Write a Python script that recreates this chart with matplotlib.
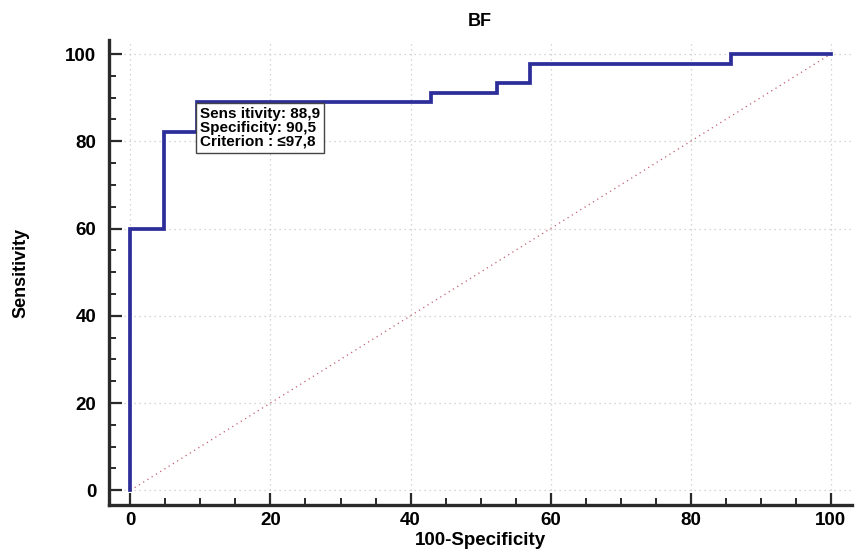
import matplotlib.pyplot as plt
from matplotlib.ticker import MultipleLocator

# ROC curve points (100-Specificity, Sensitivity)
fpr = [0, 0, 4.8, 4.8, 9.5, 9.5, 42.9, 42.9, 52.4, 52.4, 57.1, 57.1, 85.7, 85.7, 100]
tpr = [0, 60, 60, 82.2, 82.2, 88.9, 88.9, 91.1, 91.1, 93.3, 93.3, 97.8, 97.8, 100, 100]
diag = [0, 100]
box_lines = ["Sens itivity: 88,9", "Specificity: 90,5", "Criterion : \u226497,8"]
box_at = (9.5, 88.9)

plt.rcParams['font.family'] = ['Liberation Sans', 'DejaVu Sans']
plt.rcParams['font.weight'] = 'bold'

fig = plt.figure(figsize=(8.56, 5.49), dpi=100)
ax = fig.add_axes([0.127, 0.080, 0.868, 0.847])

ax.plot(diag, diag, color='#c06070', lw=0.9, ls=(0, (1, 3)))
ax.plot(fpr, tpr, color='#2e2e9a', lw=2.7, solid_joinstyle='miter')

ax.set_xlim(-3.1, 103)
ax.set_ylim(-3.4, 103.2)
ax.xaxis.set_major_locator(MultipleLocator(20))
ax.xaxis.set_minor_locator(MultipleLocator(5))
ax.yaxis.set_major_locator(MultipleLocator(20))
ax.yaxis.set_minor_locator(MultipleLocator(5))

for s in ['top', 'right']:
    ax.spines[s].set_visible(False)
for s in ['left', 'bottom']:
    ax.spines[s].set_linewidth(2.4)
    ax.spines[s].set_color('#2a2a2a')

ax.tick_params(which='major', direction='in', length=9, width=1.6, color='#2a2a2a',
               labelsize=13.5, pad=5)
ax.tick_params(which='minor', direction='in', length=5, width=1.4, color='#2a2a2a')
ax.tick_params(axis='y', pad=9)
ax.grid(True, which='major', color='#c8c8c8', ls=(0, (1, 3)), lw=0.9)
ax.set_axisbelow(True)

ax.set_title('BF', fontsize=13, fontweight='bold', pad=10)
ax.set_xlabel('100-Specificity', fontsize=13.5, fontweight='bold', labelpad=2)
ax.set_ylabel('Sensitivity', fontsize=13, fontweight='bold', labelpad=26)

ax.text(box_at[0] + 0.45, box_at[1] - 1.0, "\n".join(box_lines), fontsize=11,
        fontweight='bold', va='top', ha='left', linespacing=1.0,
        bbox=dict(boxstyle='square,pad=0.25', fc='white', ec='#444444', lw=1))

fig.savefig('out.png', dpi=100)
